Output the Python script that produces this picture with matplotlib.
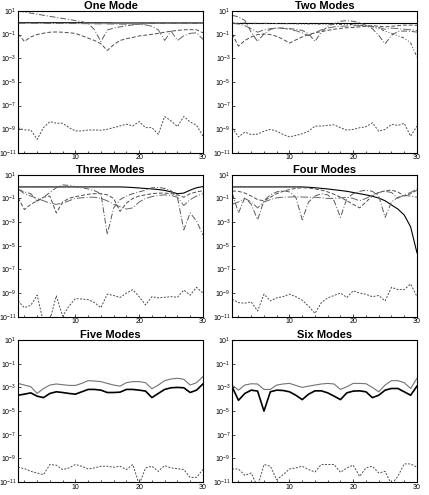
import numpy as np
import matplotlib
matplotlib.use("Agg")
import matplotlib.pyplot as plt
from matplotlib.ticker import MultipleLocator

plt.rcParams['font.family'] = ['Liberation Sans', 'DejaVu Sans']
plt.rcParams['mathtext.fontset'] = 'custom'
plt.rcParams['mathtext.rm'] = 'Liberation Sans'
plt.rcParams['mathtext.it'] = 'Liberation Sans:italic'
plt.rcParams['mathtext.bf'] = 'Liberation Sans:bold'

x = np.arange(1, 31)

# values are log10 of the error
one_mode = [
    [0.0, 0.0, 0.0, 0.0, 0.0, 0.0, 0.0, 0.0, 0.0, 0.0, 0.0, -0.01, -0.01, -0.01, -0.01,
     -0.02, -0.02, -0.02, -0.02, -0.02, -0.02, -0.02, -0.02, -0.02, -0.02, -0.02, -0.02, -0.02, -0.02, -0.02],
    [1.0, 0.9, 0.81, 0.72, 0.63, 0.54, 0.45, 0.36, 0.27, 0.18, 0.09, -0.05, -0.6, -1.6, -0.62,
     -0.45, -0.35, -0.25, -0.18, -0.12, -0.08, -0.06, -0.05, -0.05, -0.05, -0.05, -0.05, -0.05, -0.05, -0.05],
    [-0.93, -1.58, -1.2, -1.0, -0.88, -0.8, -0.78, -0.8, -0.85, -0.9, -1.1, -1.3, -1.5, -1.78, -2.34,
     -1.86, -1.5, -1.35, -1.24, -1.12, -1.05, -0.98, -0.9, -0.8, -0.72, -0.65, -0.6, -0.58, -0.6, -0.85],
    [-0.05, -0.05, -0.05, -0.05, -0.05, -0.06, -0.06, -0.06, -0.07, -0.07, -0.08, -0.08, -0.09, -0.1, -0.1,
     -0.11, -0.12, -0.12, -0.13, -0.14, -0.18, -0.3, -0.6, -1.5, -0.7, -1.5, -1.1, -0.9, -0.85, -1.4],
    [-8.86, -9.06, -9.06, -9.85, -8.86, -8.35, -8.49, -8.49, -8.86, -9.14, -9.14, -9.06, -9.06, -9.08, -9.0,
     -8.86, -8.72, -8.57, -8.72, -8.35, -8.86, -8.86, -9.42, -7.92, -8.29, -8.77, -7.92, -8.38, -8.66, -9.57],
]

two_modes = [
    [-0.02] * 30,
    [0.63, 0.49, 0.2, -0.8, -1.58, -0.93, -0.56, -0.45, -0.45, -0.5, -0.55, -0.65, -0.93, -1.58, -0.79,
     -0.3, -0.08, 0.12, 0.18, 0.12, 0.0, -0.22, -0.5, -1.07, -1.78, -1.07, -0.73, -0.7, -0.73, -0.79],
    [-0.93, -1.98, -1.5, -1.2, -1.0, -0.95, -1.0, -1.15, -1.4, -1.72, -1.45, -1.2, -1.0, -0.85, -0.75,
     -0.65, -0.55, -0.48, -0.42, -0.4, -0.35, -0.3, -0.25, -0.3, -0.35, -0.3, -0.25, -0.2, -0.2, -0.22],
    [-0.05, -0.1, -0.25, -0.5, -0.8, -0.6, -0.5, -0.45, -0.48, -0.55, -0.68, -0.85, -1.1, -0.85, -0.6,
     -0.45, -0.35, -0.3, -0.28, -0.25, -0.25, -0.28, -0.3, -0.4, -0.55, -0.45, -0.5, -0.55, -0.6, -0.65],
    [-0.02, -0.03, -0.03, -0.04, -0.05, -0.05, -0.06, -0.07, -0.08, -0.08, -0.09, -0.1, -0.1, -0.11, -0.12,
     -0.12, -0.13, -0.14, -0.14, -0.15, -0.2, -0.25, -0.35, -0.5, -0.7, -0.9, -1.1, -1.3, -1.7, -2.9],
    [-8.87, -9.64, -9.24, -9.44, -9.41, -9.16, -9.01, -9.16, -9.44, -9.64, -9.52, -9.38, -9.16, -8.73, -8.73,
     -8.67, -8.62, -8.87, -9.07, -9.01, -8.87, -8.79, -8.45, -9.16, -9.01, -8.59, -8.67, -8.5, -9.58, -8.73],
]

three_modes = [
    [-0.03, -0.03, -0.03, -0.03, -0.03, -0.03, -0.03, -0.03, -0.03, -0.03, -0.03, -0.03, -0.03, -0.03, -0.03,
     -0.03, -0.03, -0.05, -0.08, -0.12, -0.16, -0.2, -0.25, -0.32, -0.45, -0.6, -0.55, -0.3, -0.1, 0.0],
    [-0.23, -0.45, -0.6, -1.23, -0.9, -0.5, -0.1, 0.14, 0.1, 0.0, -0.1, -0.2, -0.35, -0.6, -4.03,
     -1.8, -1.1, -0.8, -0.6, -0.45, -0.3, -0.1, -0.08, -0.15, -0.35, -0.9, -3.66, -2.23, -2.9, -4.09],
    [-0.94, -1.94, -1.5, -1.2, -0.9, -0.8, -2.23, -1.3, -1.0, -0.85, -0.75, -0.65, -0.6, -0.6, -0.7,
     -1.0, -2.1, -1.4, -1.0, -0.8, -0.7, -0.6, -0.55, -0.55, -0.6, -0.7, -0.9, -0.6, -0.45, -0.35],
    [-0.2, -0.6, -0.8, -1.0, -1.2, -1.4, -1.5, -1.4, -1.2, -1.0, -0.95, -0.9, -0.9, -1.0, -1.2,
     -1.5, -1.7, -1.9, -1.8, -1.3, -1.0, -0.85, -0.75, -0.7, -0.75, -0.9, -1.6, -1.1, -0.8, -0.6],
    [-9.66, -10.23, -10.03, -9.17, -11.5, -11.3, -9.23, -10.94, -10.09, -9.46, -9.5, -9.55, -9.8, -10.23, -9.09,
     -9.2, -9.37, -9.0, -8.71, -9.3, -10.0, -9.3, -9.4, -9.35, -9.3, -9.35, -8.74, -9.17, -8.51, -9.0],
]

four_modes = [
    [-0.03, -0.03, -0.03, -0.03, -0.03, -0.03, -0.03, -0.03, -0.03, -0.03, -0.03, -0.03, -0.06, -0.1, -0.15,
     -0.2, -0.27, -0.33, -0.4, -0.5, -0.6, -0.7, -0.82, -0.97, -1.2, -1.55, -1.9, -2.4, -3.4, -5.6],
    [-0.51, -2.23, -0.94, -1.5, -2.8, -1.2, -0.7, -0.45, -0.35, -0.45, -0.9, -2.8, -1.3, -0.8, -0.6,
     -0.7, -1.2, -2.6, -1.0, -0.6, -0.4, -0.3, -0.4, -0.8, -2.6, -1.3, -0.9, -0.75, -0.8, -0.9],
    [-0.37, -0.4, -0.55, -0.8, -1.1, -1.2, -0.9, -0.6, -0.4, -0.25, -0.15, -0.1, -0.12, -0.2, -0.3,
     -0.45, -0.65, -0.9, -1.2, -1.5, -1.8, -1.3, -0.8, -0.5, -0.35, -0.3, -0.45, -0.8, -0.6, -0.3],
    [-1.5, -1.3, -1.0, -1.3, -1.8, -1.3, -1.1, -0.95, -0.9, -0.88, -0.87, -0.88, -0.9, -0.9, -0.95,
     -1.0, -1.0, -0.95, -0.9, -1.0, -1.2, -1.0, -0.7, -0.5, -0.4, -0.5, -1.0, -0.7, -0.5, -0.2],
    [-9.51, -9.8, -9.85, -9.74, -10.51, -9.09, -9.66, -9.4, -9.3, -9.09, -9.3, -9.6, -10.1, -10.71, -9.8,
     -9.4, -9.2, -9.0, -9.37, -8.8, -9.0, -9.1, -9.3, -9.2, -9.66, -8.51, -8.7, -8.7, -8.23, -9.29],
]

five_modes = [
    [-2.66, -2.8, -2.94, -3.51, -3.09, -2.8, -2.71, -2.77, -2.83, -2.83, -2.66, -2.43, -2.46, -2.51, -2.66,
     -2.8, -2.89, -2.6, -2.51, -2.51, -2.6, -3.11, -2.8, -2.43, -2.29, -2.23, -2.31, -2.8, -2.6, -2.09],
    [-3.66, -3.57, -3.46, -3.74, -3.86, -3.51, -3.37, -3.43, -3.51, -3.57, -3.37, -3.17, -3.17, -3.23, -3.43,
     -3.43, -3.4, -3.17, -3.17, -3.23, -3.31, -3.86, -3.51, -3.17, -3.03, -3.0, -3.03, -3.43, -3.23, -2.71],
    [-9.74, -9.86, -10.09, -10.23, -10.37, -9.51, -9.57, -9.94, -9.8, -9.51, -9.66, -9.89, -9.8, -9.66, -9.66,
     -9.74, -9.66, -9.94, -9.51, -11.2, -9.8, -9.66, -10.09, -9.6, -9.8, -9.86, -9.94, -10.6, -10.6, -9.94],
]

six_modes = [
    [-2.8, -3.23, -2.8, -2.69, -2.71, -3.17, -3.17, -2.8, -2.71, -2.66, -2.83, -3.0, -2.89, -2.8, -2.71,
     -2.66, -2.71, -3.17, -2.94, -2.66, -2.66, -2.69, -3.0, -3.37, -2.8, -2.43, -2.43, -2.6, -3.09, -2.23],
    [-2.94, -4.09, -3.51, -3.23, -3.31, -5.0, -3.37, -3.23, -3.26, -3.37, -3.66, -4.03, -3.57, -3.29, -3.29,
     -3.46, -3.74, -4.03, -3.46, -3.31, -3.29, -3.37, -3.86, -3.66, -3.23, -3.09, -3.09, -3.37, -3.66, -2.89],
    [-9.89, -9.89, -10.43, -10.23, -11.4, -9.51, -9.66, -10.8, -10.37, -9.89, -9.8, -9.66, -9.94, -10.14, -9.51,
     -9.51, -9.51, -10.17, -9.8, -9.57, -10.51, -9.8, -9.66, -10.23, -10.09, -11.2, -10.51, -9.46, -9.46, -9.74],
]

titles = ["One Mode", "Two Modes", "Three Modes", "Four Modes", "Five Modes", "Six Modes"]
panels = [one_mode, two_modes, three_modes, four_modes, five_modes, six_modes]

upper_styles = [
    dict(color="black", ls="-", lw=0.8),
    dict(color="0.35", ls=(0, (6, 2, 1, 2)), lw=0.7),
    dict(color="0.3", ls=(0, (4, 2)), lw=0.7),
    dict(color="0.4", ls=(0, (8, 2, 1, 2)), lw=0.7),
    dict(color="0.3", ls=(0, (3, 2, 1, 2, 1, 2)), lw=0.7),
]
low_styles = [
    dict(color="0.45", ls="-", lw=0.8),
    dict(color="black", ls="-", lw=1.2),
]
dot_style = dict(color="0.3", ls=(0, (2, 1.5)), lw=0.7)

fig = plt.figure(figsize=(4.29, 4.95), dpi=100)

lefts = [0.042, 0.541]
bottoms = [0.691, 0.360, 0.026]
w = 0.431
h = 0.287

yticks = [1e1, 1e-1, 1e-3, 1e-5, 1e-7, 1e-9, 1e-11]
ylabels = ["$10^{1}$", "$10^{-1}$", "$10^{-3}$", "$10^{-5}$", "$10^{-7}$", "$10^{-9}$", "$10^{-11}$"]

for i, (title, series) in enumerate(zip(titles, panels)):
    ax = fig.add_axes([lefts[i % 2], bottoms[i // 2], w, h])
    if i < 4:
        styles = upper_styles[:len(series) - 1]
    else:
        styles = low_styles
    for s, st in zip(series[:-1], styles):
        ax.plot(x, 10.0 ** np.array(s), **st)
    ax.plot(x, 10.0 ** np.array(series[-1]), **dot_style)

    ax.set_yscale("log")
    ax.set_ylim(1e-11, 1e1)
    ax.set_xlim(1, 30)
    ax.set_yticks(yticks)
    ax.set_yticklabels(ylabels)
    ax.minorticks_off()
    ax.set_xticks([10, 20, 30])
    ax.xaxis.set_minor_locator(MultipleLocator(2))
    ax.tick_params(direction="in", length=2, width=0.5, labelsize=5, pad=1)
    ax.tick_params(which="minor", direction="in", length=1.5, width=0.5)
    for sp in ax.spines.values():
        sp.set_linewidth(0.8)
    ax.set_title(title, fontsize=8, fontweight="bold", pad=0.5)

fig.savefig("out.png", dpi=100)
